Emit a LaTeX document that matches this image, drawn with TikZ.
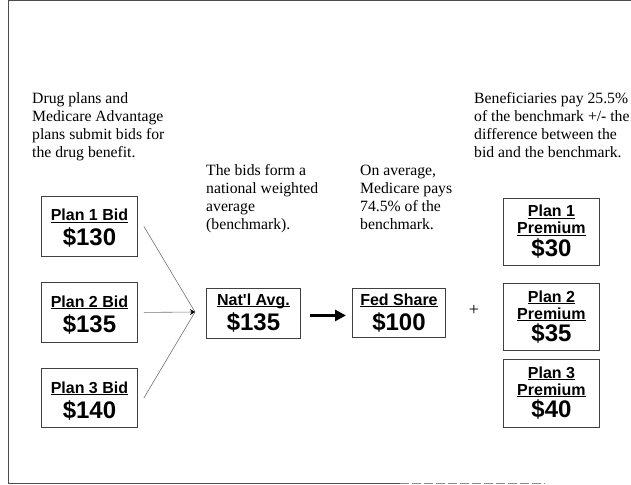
\documentclass[tikz,border=0pt]{standalone}
\usepackage{fontspec}
\setmainfont{Liberation Serif}
\newfontfamily\arialf{Liberation Sans}
\usetikzlibrary{arrows.meta,calc}
\newcommand\ulab[1]{\setbox0\hbox{#1}\rlap{\rule[-2.2bp]{\wd0}{1.3bp}}\box0}
\begin{document}
\begin{tikzpicture}[x=1bp,y=-1bp,
 box/.style={draw=black!75,line width=0.9bp,minimum width=96bp,inner sep=0pt,anchor=north west},
 lab/.style={font=\arialf\bfseries\fontsize{16bp}{18bp}\selectfont,anchor=base,inner sep=0pt},
 val/.style={font=\arialf\bfseries\fontsize{24bp}{26bp}\selectfont,anchor=base,inner sep=0pt},
 note/.style={font=\fontsize{15.7bp}{18bp}\selectfont,anchor=base west,inner sep=0pt},
 feed/.style={draw=black!55,line width=0.6bp},
 frame/.style={draw=black!70,line width=1bp},
]
\useasboundingbox (0,0) rectangle (631,485);
% frame
\draw[frame] (8,1) -- (631,1);
\draw[frame] (8,1) -- (8,484);
\draw[frame] (8,483.5) -- (400,483.5);
\draw[frame,draw=black!45,dash pattern=on 9bp off 3bp] (400,483.5) -- (545,483.5);
% notes
\node[note] (t1) at (32,104) {\parbox[t]{200bp}{Drug plans and\\Medicare Advantage\\plans submit bids for\\the drug benefit.}};
\node[note] (t2) at (206,176) {\parbox[t]{200bp}{The bids form a\\national weighted\\average\\(benchmark).}};
\node[note] (t3) at (360,176) {\parbox[t]{200bp}{On average,\\Medicare pays\\74.5\% of the\\benchmark.}};
\node[note] (t4) at (474,104) {\parbox[t]{200bp}{Beneficiaries pay 25.5\%\\of the benchmark +/- the\\difference between the\\bid and the benchmark.}};
% bid boxes
\node[box,minimum height=60bp] (p1) at (41,196) {};
\node[lab] (p1l) at ($(p1.north)+(0,25)$) {\ulab{Plan 1 Bid}};
\node[val] (p1v) at ($(p1.north)+(0,50)$) {\$130};
\node[box,minimum height=60bp] (p2) at (41,282) {};
\node[lab] (p2l) at ($(p2.north)+(0,25)$) {\ulab{Plan 2 Bid}};
\node[val] (p2v) at ($(p2.north)+(0,50)$) {\$135};
\node[box,minimum height=59bp] (p3) at (41,368) {};
\node[lab] (p3l) at ($(p3.north)+(0,25)$) {\ulab{Plan 3 Bid}};
\node[val] (p3v) at ($(p3.north)+(0,50)$) {\$140};
% national average
\node[box,minimum height=50bp,minimum width=94bp] (nat) at (206,288) {};
\node[lab] (natl) at ($(nat.north)+(0,17)$) {\ulab{Nat'l Avg.}};
\node[val] (natv) at ($(nat.north)+(0,42)$) {\$135};
% fed share
\node[box,minimum height=49bp,minimum width=93bp] (fed) at (352,288) {};
\node[lab] (fedl) at ($(fed.north)+(0,17)$) {\ulab{Fed Share}};
\node[val] (fedv) at ($(fed.north)+(0,42)$) {\$100};
% plus
\node[font=\fontsize{18bp}{20bp}\selectfont,inner sep=0pt] (plus) at (474,310) {+};
% premium boxes
\node[box,minimum height=67bp] (q1) at (503,198) {};
\node[lab] (q1a) at ($(q1.north)+(0,19)$) {\ulab{Plan 1}};
\node[lab] (q1b) at ($(q1.north)+(0,36)$) {\ulab{Premium}};
\node[val] (q1v) at ($(q1.north)+(0,58)$) {\$30};
\node[box,minimum height=67bp] (q2) at (503,283) {};
\node[lab] (q2a) at ($(q2.north)+(0,19)$) {\ulab{Plan 2}};
\node[lab] (q2b) at ($(q2.north)+(0,36)$) {\ulab{Premium}};
\node[val] (q2v) at ($(q2.north)+(0,58)$) {\$35};
\node[box,minimum height=68bp] (q3) at (503,359) {};
\node[lab] (q3a) at ($(q3.north)+(0,19)$) {\ulab{Plan 3}};
\node[lab] (q3b) at ($(q3.north)+(0,36)$) {\ulab{Premium}};
\node[val] (q3v) at ($(q3.north)+(0,58)$) {\$40};
% connectors
\coordinate (conv) at (195,312);
\draw[feed] ([xshift=6bp]p1.east) -- (conv);
\draw[feed] ([xshift=6bp]p3.east) -- (conv);
\draw[feed,-{Stealth[length=5bp,width=6bp,color=black]}] ([xshift=6bp]p2.east) -- (conv);
\draw[line width=3bp,-{Triangle[length=11bp,width=11bp]}] ([xshift=9bp,yshift=-2bp]nat.east) -- ([xshift=-6bp,yshift=-2bp]fed.west |- nat.east);
\end{tikzpicture}
\end{document}
